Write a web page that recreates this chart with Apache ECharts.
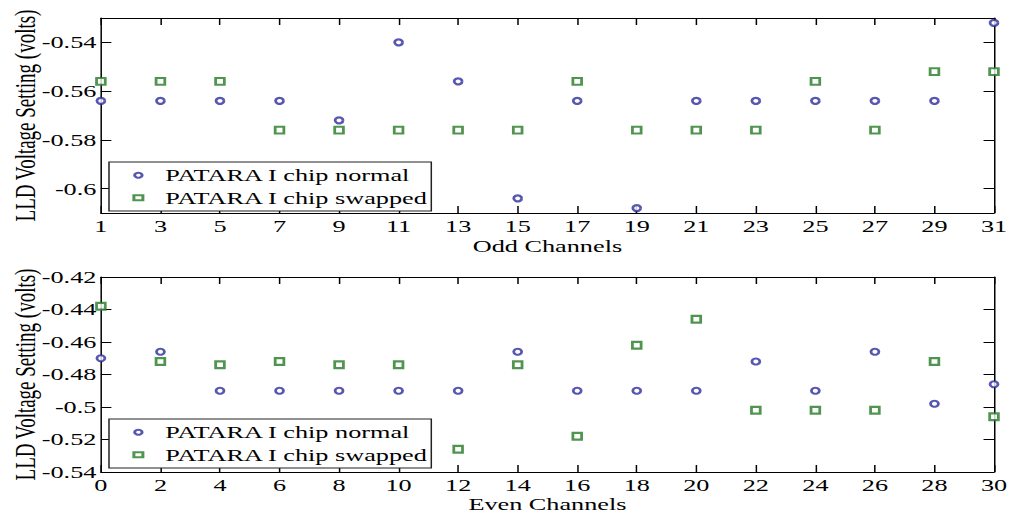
<!DOCTYPE html>
<html>
<head>
<meta charset="utf-8">
<script src="https://cdn.jsdelivr.net/npm/echarts@6/dist/echarts.min.js"></script>
<style>
  html, body { margin: 0; padding: 0; background: #fff; overflow: hidden; }
  #main { width: 675px; height: 513px; transform: scaleX(1.49926); transform-origin: 0 0; }
</style>
</head>
<body>
<div id="main"></div>
<script>
// ---- data ----
const oddChannels = [1, 3, 5, 7, 9, 11, 13, 15, 17, 19, 21, 23, 25, 27, 29, 31];
const oddNormal   = [-0.564, -0.564, -0.564, -0.564, -0.572, -0.540, -0.556, -0.604, -0.564, -0.608, -0.564, -0.564, -0.564, -0.564, -0.564, -0.532];
const oddSwapped  = [-0.556, -0.556, -0.556, -0.576, -0.576, -0.576, -0.576, -0.576, -0.556, -0.576, -0.576, -0.576, -0.556, -0.576, -0.552, -0.552];

const evenChannels = [0, 2, 4, 6, 8, 10, 12, 14, 16, 18, 20, 22, 24, 26, 28, 30];
const evenNormal   = [-0.470, -0.466, -0.490, -0.490, -0.490, -0.490, -0.490, -0.466, -0.490, -0.490, -0.490, -0.472, -0.490, -0.466, -0.498, -0.486];
const evenSwapped  = [-0.438, -0.472, -0.474, -0.472, -0.474, -0.474, -0.526, -0.474, -0.518, -0.462, -0.446, -0.502, -0.502, -0.502, -0.472, -0.506];

const oddXTicks  = [1, 3, 5, 7, 9, 11, 13, 15, 17, 19, 21, 23, 25, 27, 29, 31];
const evenXTicks = [0, 2, 4, 6, 8, 10, 12, 14, 16, 18, 20, 22, 24, 26, 28, 30];
const topYTicks  = [-0.6, -0.58, -0.56, -0.54];
const botYTicks  = [-0.54, -0.52, -0.5, -0.48, -0.46, -0.44, -0.42];

const seriesNames = ['PATARA I chip normal', 'PATARA I chip swapped'];
const xNames = ['Odd Channels', 'Even Channels'];
const yName = 'LLD Voltage Setting (volts)';

// ---- styles ----
const FONT = 'Liberation Serif';
const FS = 17.5;
const BLUE = '#2d2d9c';
const GREEN = '#237a23';
const AX = '#000';

function pairs(xs, ys) { return xs.map((x, i) => [x, ys[i]]); }

function xAxisPair(gridIndex, min, max, ticks, name, nameGap) {
  const common = {
    type: 'value', gridIndex, min, max,
    splitLine: { show: false },
    axisLine: { show: true, onZero: false, lineStyle: { color: AX, width: 1 } },
    axisTick: { show: true, inside: true, length: 7, customValues: ticks, lineStyle: { color: AX } }
  };
  return [
    Object.assign({}, common, {
      position: 'bottom',
      name, nameLocation: 'middle', nameGap, nameMoveOverlap: false,
      nameTextStyle: { fontFamily: FONT, fontSize: FS, color: '#000' },
      axisLabel: { show: true, margin: 4, customValues: ticks, fontFamily: FONT, fontSize: FS, color: '#000' }
    }),
    Object.assign({}, common, { position: 'top', axisLabel: { show: false } })
  ];
}

function yAxisPair(gridIndex, min, max, ticks) {
  const common = {
    type: 'value', gridIndex, min, max,
    splitLine: { show: false },
    axisLine: { show: true, onZero: false, lineStyle: { color: AX, width: 1 } },
    axisTick: { show: true, inside: true, length: 7, customValues: ticks, lineStyle: { color: AX } }
  };
  return [
    Object.assign({}, common, {
      position: 'left',
      name: yName, nameLocation: 'middle', nameGap: 41, nameMoveOverlap: false,
      nameTextStyle: { fontFamily: FONT, fontSize: 19, color: '#000' },
      axisLabel: { show: true, margin: 3, customValues: ticks, fontFamily: FONT, fontSize: FS, color: '#000' }
    }),
    Object.assign({}, common, { position: 'right', axisLabel: { show: false } })
  ];
}

function legend(top) {
  return {
    orient: 'vertical', left: 72.7, top,
    padding: [4.25, 2, 4.25, 15.6], itemGap: 4.5,
    itemWidth: 6, itemHeight: 5,
    backgroundColor: '#fff', borderColor: '#222', borderWidth: 1,
    selectedMode: false,
    formatter: '{a|{name}}',
    textStyle: { rich: { a: { fontFamily: FONT, fontSize: FS, color: '#000', padding: [0, 0, 0, 10] } } },
    data: [
      { name: seriesNames[0], icon: 'emptyCircle' },
      { name: seriesNames[1], icon: 'emptyRect' }
    ],
    z: 10
  };
}

function scatter(name, xIdx, yIdx, data, symbol, color, size) {
  return {
    type: 'scatter', name, xAxisIndex: xIdx, yAxisIndex: yIdx,
    data, symbol, symbolSize: size,
    itemStyle: { color: color, borderWidth: 1 },
    emphasis: { disabled: true },
    animation: false
  };
}

const option = {
  backgroundColor: '#fff',
  animation: false,
  grid: [
    { left: 67.3, right: 12, top: 18, height: 195, containLabel: false, outerBoundsMode: 'none' },
    { left: 67.3, right: 12, top: 277, height: 195, containLabel: false, outerBoundsMode: 'none' }
  ],
  xAxis: [
    ...xAxisPair(0, 1, 31, oddXTicks, xNames[0], 24),
    ...xAxisPair(1, 0, 30, evenXTicks, xNames[1], 23)
  ],
  yAxis: [
    ...yAxisPair(0, -0.61, -0.53, topYTicks),
    ...yAxisPair(1, -0.54, -0.42, botYTicks)
  ],
  legend: [legend(162), legend(419)],
  series: [
    scatter(seriesNames[0], 0, 0, pairs(oddChannels, oddNormal), 'emptyCircle', BLUE, [5.3, 6]),
    scatter(seriesNames[1], 0, 0, pairs(oddChannels, oddSwapped), 'emptyRect', GREEN, [5.8, 6.7]),
    scatter(seriesNames[0], 2, 2, pairs(evenChannels, evenNormal), 'emptyCircle', BLUE, [5.3, 6]),
    scatter(seriesNames[1], 2, 2, pairs(evenChannels, evenSwapped), 'emptyRect', GREEN, [5.8, 6.7])
  ]
};

const chart = echarts.init(document.getElementById('main'), null, { renderer: 'svg' });
chart.setOption(option);
</script>
</body>
</html>
